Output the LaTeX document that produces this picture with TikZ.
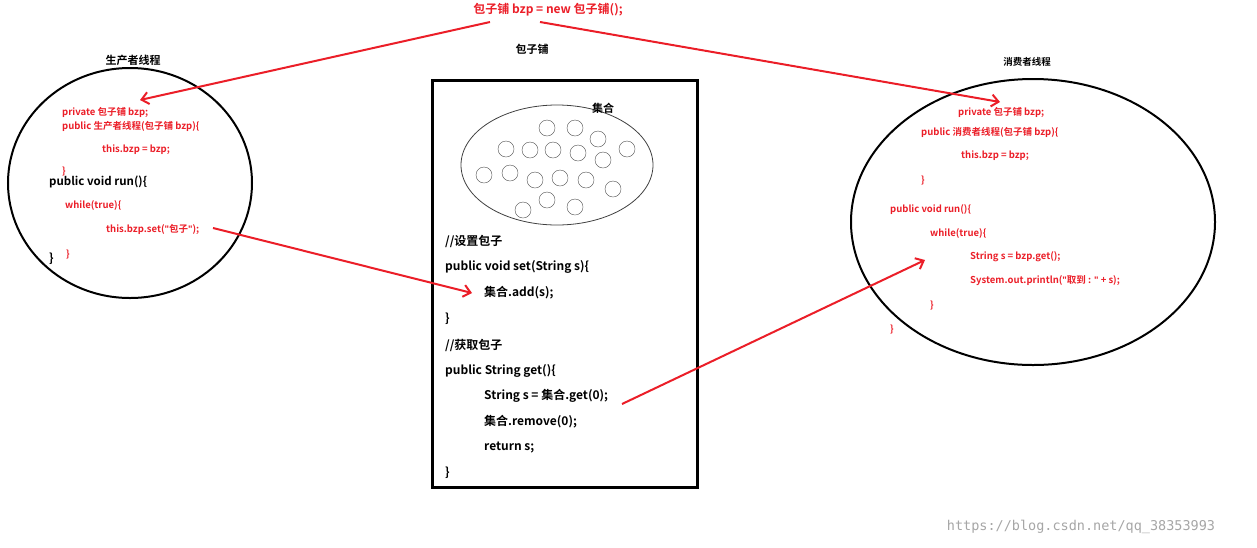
\documentclass[tikz,border=0pt]{standalone}
\usepackage{fontspec}
\usetikzlibrary{arrows.meta}
\setmainfont{Noto Sans CJK SC}[BoldFont={* Bold}]
\newfontfamily\wmfont{DejaVu Sans Mono}
\newfontfamily\qfont{Liberation Sans}
\newcommand{\dq}{{\qfont\bfseries"}}
\definecolor{cred}{RGB}{235,30,40}
\begin{document}
\begin{tikzpicture}[x=1pt,y=-1pt,
  rt/.style={anchor=west,text=cred,font=\bfseries\fontsize{9.5}{11}\selectfont,inner sep=0},
  bt/.style={anchor=west,font=\bfseries\fontsize{12}{14}\selectfont,inner sep=0},
  tt/.style={font=\bfseries\fontsize{11}{13}\selectfont,inner sep=0},
  arr/.style={draw=cred,line width=2pt,-{Straight Barb[length=7pt,width=12pt]}},
  dot/.style={circle,draw=black!70,minimum size=16pt,inner sep=0}]
\useasboundingbox (0,0) rectangle (1257,547);
\node[tt,text=cred,font=\bfseries\fontsize{12}{14}\selectfont] (top) at (548,10) {包子铺 bzp = new 包子铺();};
\node[tt] (lt) at (133,60) {生产者线程};
\node[tt] (mt) at (532,49) {包子铺};
\node[tt,font=\bfseries\fontsize{9.5}{11}\selectfont] (rtt) at (1027,62) {消费者线程};
\draw[line width=2pt] (130,183) ellipse [x radius=122,y radius=115];
\draw[line width=2pt] (1033,222) ellipse [x radius=182,y radius=143];
\draw[line width=3pt] (432,80) rectangle (697,487);
\draw[black!75,line width=0.8pt] (557,165) ellipse [x radius=96,y radius=60];
\node[tt] (jh) at (603,108) {集合};
\foreach \p [count=\i] in {(547,128),(575,128),(598,139),(627,149),(506,149),(530,150),(553,150),(578,153),(603,160),(484,175),(510,173),(535,180),(560,178),(586,180),(613,189),(547,200),(523,210),(575,207)}
  \node[dot] (c\i) at \p {};
% box text
\node[bt] (b1) at (445,241) {//设置包子};
\node[bt] (b2) at (445,267) {public void set(String s)\{};
\node[bt] (b3) at (484,293) {集合.add(s);};
\node[bt] (b4) at (445,319) {\}};
\node[bt] (b5) at (445,345) {//获取包子};
\node[bt] (b6) at (445,371) {public String get()\{};
\node[bt] (b7) at (484,396) {String s = 集合.get(0);};
\node[bt] (b8) at (484,422) {集合.remove(0);};
\node[bt] (b9) at (484,448) {return s;};
\node[bt] (b10) at (445,473) {\}};
% left
\node[rt] (l1) at (62,112) {private 包子铺 bzp;};
\node[rt] (l2) at (62,126) {public 生产者线程(包子铺 bzp)\{};
\node[rt] (l3) at (102,150) {this.bzp = bzp;};
\node[rt] (l4) at (62,171) {\}};
\node[bt,font=\bfseries\fontsize{11.5}{13}\selectfont] (l5) at (49,182) {public void run()\{};
\node[rt] (l6) at (65,205) {while(true)\{};
\node[rt] (l7) at (106,229) {this.bzp.set(\dq 包子\dq);};
\node[rt] (l8) at (66,254) {\}};
\node[bt] (l9) at (49,259) {\}};
% right
\node[rt] (r1) at (958,112) {private 包子铺 bzp;};
\node[rt] (r2) at (921,132) {public 消费者线程(包子铺 bzp)\{};
\node[rt] (r3) at (961,156) {this.bzp = bzp;};
\node[rt] (r4) at (921,180) {\}};
\node[rt] (r5) at (890,210) {public void run()\{};
\node[rt] (r6) at (930,233) {while(true)\{};
\node[rt] (r7) at (970,257) {String s = bzp.get();};
\node[rt] (r8) at (970,281) {System.out.println(\dq 取到 : \dq{} + s);};
\node[rt] (r9) at (930,305) {\}};
\node[rt] (r10) at (890,329) {\}};
% arrows
\coordinate (a1) at (490,22); \coordinate (a1e) at (140,100);
\coordinate (a2) at (540,22); \coordinate (a2e) at (1000,102);
\coordinate (a3) at (213,228); \coordinate (a3e) at (472,293);
\coordinate (a4) at (622,404); \coordinate (a4e) at (925,260);
\draw[arr] (a1) -- (a1e);
\draw[arr] (a2) -- (a2e);
\draw[arr] (a3) -- (a3e);
\draw[arr] (a4) -- (a4e);
\node[text=black!35,font=\wmfont\fontsize{13.5}{15}\selectfont] (wm) at (1081,527) {https://blog.csdn.net/qq\_38353993};
\end{tikzpicture}
\end{document}
